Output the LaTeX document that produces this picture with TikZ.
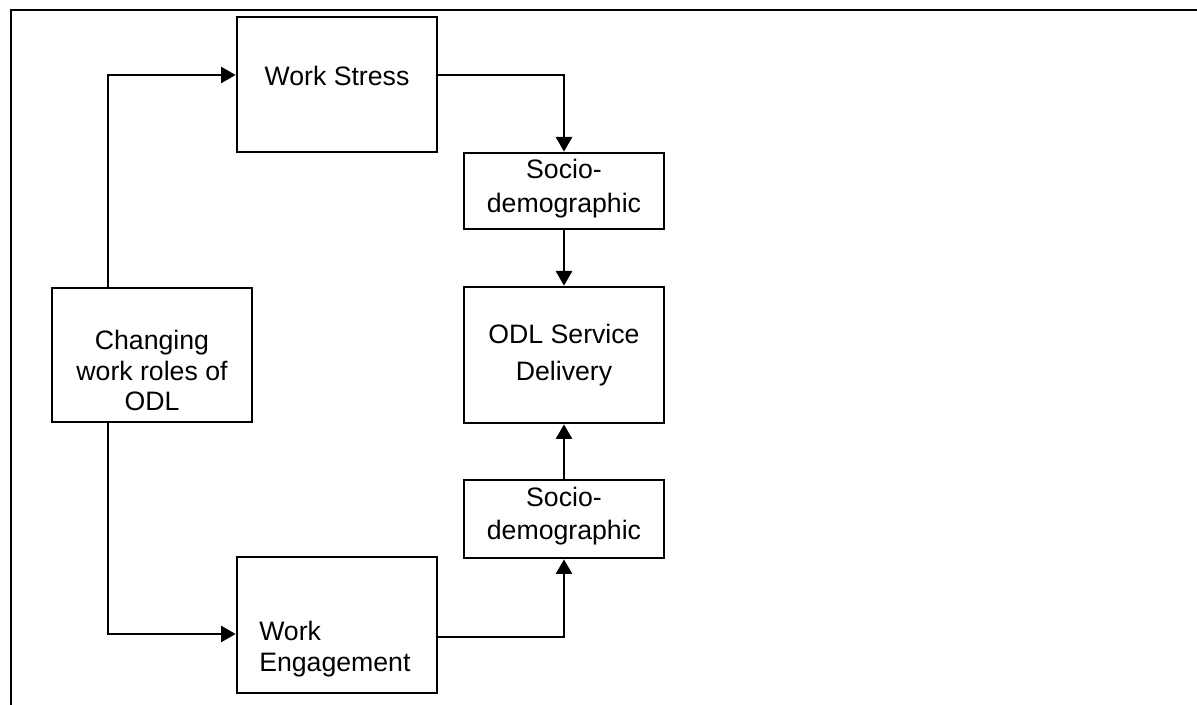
\documentclass[tikz,border=0pt]{standalone}
\usepackage{fontspec}
\setmainfont{Liberation Sans}
\usetikzlibrary{arrows.meta}
\tikzset{
  box/.style={draw, line width=2pt, minimum width=150pt, inner sep=0pt},
  lbl/.style={inner sep=0pt, font=\fontsize{20}{23}\selectfont},
  conn/.style={line width=2pt, -{Triangle[length=11pt,width=12pt]}},
  frame/.style={line width=2pt}
}
\begin{document}
\begin{tikzpicture}[x=0.75pt, y=-0.75pt]
  \useasboundingbox (0,0) rectangle (1197,705);
  % outer frame (top and left edges)
  \draw[frame] (11,705) -- (11,10) -- (1197,10);

  % boxes
  \node[box, minimum height=101.25pt] (stress) at (337,84.5) {};
  \node[box, minimum height=102pt]    (engage) at (337,625) {};
  \node[box, minimum height=100.5pt]  (change) at (152,355) {};
  \node[box, minimum height=57pt]     (socioA) at (564,191) {};
  \node[box, minimum height=102pt]    (odl)    at (564,355) {};
  \node[box, minimum height=58.5pt]   (socioB) at (564,519) {};

  % labels (base anchor sits on the last line)
  \node[lbl, anchor=base] (stressT) at (337,86) {Work Stress};
  \node[lbl, anchor=base west, align=left, font=\fontsize{20}{23.25}\selectfont] (engageT) at (259,672) {Work\\Engagement};
  \node[lbl, anchor=base, align=center] (changeT) at (152,411) {Changing\\work roles of\\ODL};
  \node[lbl, anchor=base, align=center, font=\fontsize{20}{26}\selectfont] (socioAT) at (564,213) {Socio-\\demographic};
  \node[lbl, anchor=base, align=center, font=\fontsize{20}{27.75}\selectfont] (odlT) at (564,381) {ODL Service\\Delivery};
  \node[lbl, anchor=base, align=center, font=\fontsize{20}{25}\selectfont] (socioBT) at (564,540) {Socio-\\demographic};

  % routing guides
  \coordinate (lx) at (108,0);
  \coordinate (uy) at (0,75);
  \coordinate (ly) at (0,634);
  \coordinate (ey) at (0,637);

  % connectors
  \draw[conn] (change.north -| lx) |- (stress.west |- uy);
  \draw[conn] (change.south -| lx) |- (engage.west |- ly);
  \draw[conn] (stress.east |- uy) -| (socioA.north);
  \draw[conn] (socioA.south) -- (odl.north);
  \draw[conn] (engage.east |- ey) -| (socioB.south);
  \draw[conn] (socioB.north) -- (odl.south);
\end{tikzpicture}
\end{document}
